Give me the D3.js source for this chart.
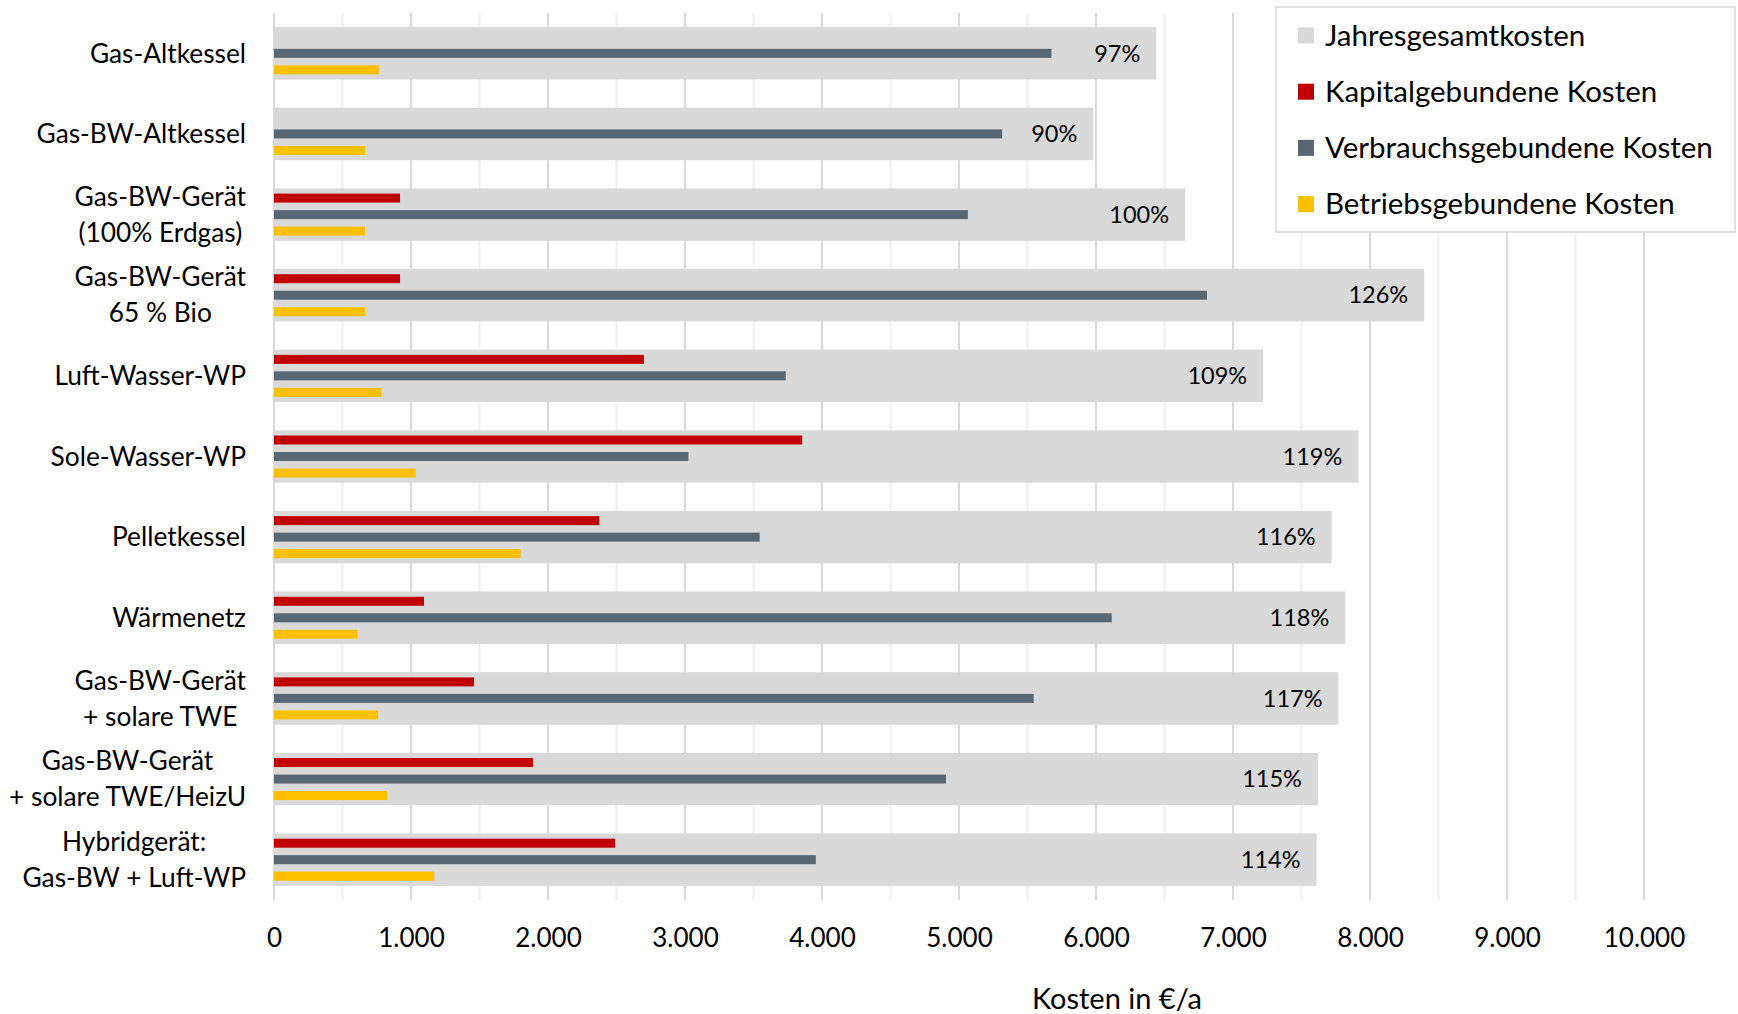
<!DOCTYPE html>
<html>
<head>
<meta charset="utf-8">
<script src="https://cdn.jsdelivr.net/npm/d3@7"></script>
<style>
  body { margin: 0; background: #fff; }
  svg text { font-family: Lato, "Noto Sans", sans-serif; fill: #000; }
</style>
</head>
<body>
<svg id="chart" width="1738" height="1014"></svg>
<script>
// Heating systems (line breaks as in the category labels)
const categories = [
  "Gas-Altkessel",
  "Gas-BW-Altkessel",
  "Gas-BW-Gerät\n(100% Erdgas)",
  "Gas-BW-Gerät\n65 % Bio",
  "Luft-Wasser-WP",
  "Sole-Wasser-WP",
  "Pelletkessel",
  "Wärmenetz",
  "Gas-BW-Gerät\n+ solare TWE",
  "Gas-BW-Gerät\n+ solare TWE/HeizU",
  "Hybridgerät:\nGas-BW + Luft-WP"
];

// Annual costs in €/a
const totalCosts       = [6440, 5980, 6650, 8395, 7220, 7915, 7720, 7820, 7770, 7620, 7610];
const capitalCosts     = [0, 0, 920, 920, 2700, 3855, 2375, 1095, 1460, 1890, 2490];
const consumptionCosts = [5675, 5315, 5065, 6810, 3735, 3025, 3545, 6115, 5545, 4905, 3955];
const operatingCosts   = [765, 665, 665, 665, 785, 1035, 1800, 610, 760, 825, 1170];

// Total cost relative to Gas-BW-Gerät (100% Erdgas)
const percentLabels = ["97%", "90%", "100%", "126%", "109%", "119%", "116%", "118%", "117%", "115%", "114%"];

const seriesNames = ["Jahresgesamtkosten", "Kapitalgebundene Kosten", "Verbrauchsgebundene Kosten", "Betriebsgebundene Kosten"];
const xTicks = [0, 1000, 2000, 3000, 4000, 5000, 6000, 7000, 8000, 9000, 10000];
const axisTitle = "Kosten in €/a";

const colors = {
  total: "#d9d9d9",
  capital: "#c00000",
  consumption: "#596773",
  operating: "#ffc000"
};

const svg = d3.select("#chart");
const plot = { left: 274, right: 1644, top: 13, bottom: 900 };

const x = d3.scaleLinear().domain([0, 10000]).range([plot.left, plot.right]);
const y = d3.scaleBand()
  .domain(categories)
  .range([plot.top, plot.bottom])
  .paddingInner(0.35)
  .paddingOuter(0.175);

const de = d3.formatLocale({ decimal: ",", thousands: ".", grouping: [3], currency: ["", " €"] });
const fmt = de.format(",d");

// Gridlines: major every 1.000, minor every 500
const gridVals = d3.range(0, 10001, 500);
svg.append("g").selectAll("line")
  .data(gridVals)
  .join("line")
  .attr("x1", d => x(d)).attr("x2", d => x(d))
  .attr("y1", plot.top).attr("y2", plot.bottom)
  .attr("stroke", d => d % 1000 === 0 ? "#d9d9d9" : "#f0f0f0")
  .attr("stroke-width", 2);

// Rows
const rows = categories.map((c, i) => ({
  cat: c,
  total: totalCosts[i],
  capital: capitalCosts[i],
  consumption: consumptionCosts[i],
  operating: operatingCosts[i],
  pct: percentLabels[i]
}));

const thin = 9;
const offset = 16.5;

const g = svg.append("g");
g.selectAll("rect.total")
  .data(rows)
  .join("rect")
  .attr("class", "total")
  .attr("x", x(0))
  .attr("y", d => y(d.cat))
  .attr("width", d => x(d.total) - x(0))
  .attr("height", y.bandwidth())
  .attr("fill", colors.total);

const subSeries = [
  { key: "capital", dy: -offset },
  { key: "consumption", dy: 0 },
  { key: "operating", dy: offset }
];
subSeries.forEach(s => {
  g.selectAll("rect." + s.key)
    .data(rows.filter(d => d[s.key] > 0))
    .join("rect")
    .attr("class", s.key)
    .attr("x", x(0))
    .attr("y", d => y(d.cat) + y.bandwidth() / 2 + s.dy - thin / 2)
    .attr("width", d => x(d[s.key]) - x(0))
    .attr("height", thin)
    .attr("fill", colors[s.key]);
});

// Percentage labels inside the total bars
g.selectAll("text.pct")
  .data(rows)
  .join("text")
  .attr("class", "pct")
  .attr("x", d => x(d.total) - 16)
  .attr("y", d => y(d.cat) + y.bandwidth() / 2)
  .attr("dy", "0.35em")
  .attr("text-anchor", "end")
  .style("font-size", "23.5px")
  .text(d => d.pct);

// Category labels: block right-aligned, lines centered within the block
const labelRight = 246;
const lineGap = 36;
categories.forEach(c => {
  const lines = c.split("\n");
  const grp = svg.append("g");
  const cy = y(c) + y.bandwidth() / 2;
  const texts = lines.map((ln, k) => grp.append("text")
    .attr("y", cy + (k - (lines.length - 1) / 2) * lineGap)
    .attr("dy", "0.35em")
    .attr("text-anchor", "middle")
    .style("font-size", "26.3px")
    .text(ln));
  const maxW = d3.max(texts, t => t.node().getComputedTextLength());
  texts.forEach(t => t.attr("x", labelRight - maxW / 2));
});

// X axis
const xAxis = svg.append("g")
  .attr("transform", `translate(0,${plot.bottom})`)
  .call(d3.axisBottom(x).tickValues(xTicks).tickFormat(fmt).tickSize(0).tickPadding(29));
xAxis.select(".domain").remove();
xAxis.selectAll("text")
  .style("font-family", "Lato, 'Noto Sans', sans-serif")
  .style("font-size", "26px")
  .attr("fill", "#000");

svg.append("text")
  .attr("x", 1117)
  .attr("y", 999)
  .attr("dy", "0.35em")
  .attr("text-anchor", "middle")
  .style("font-size", "29px")
  .text(axisTitle);

// Legend
const legend = svg.append("g");
legend.append("rect")
  .attr("x", 1276).attr("y", 7)
  .attr("width", 459).attr("height", 225)
  .attr("fill", "#fff")
  .attr("stroke", "#d9d9d9")
  .attr("stroke-width", 1.5);
const legendColors = [colors.total, colors.capital, colors.consumption, colors.operating];
seriesNames.forEach((name, i) => {
  const ly = 35.5 + i * 56.2;
  legend.append("rect")
    .attr("x", 1298).attr("y", ly - 8)
    .attr("width", 16).attr("height", 16)
    .attr("fill", legendColors[i]);
  legend.append("text")
    .attr("x", 1325).attr("y", ly)
    .attr("dy", "0.35em")
    .style("font-size", "29.5px")
    .text(name);
});
</script>
</body>
</html>
